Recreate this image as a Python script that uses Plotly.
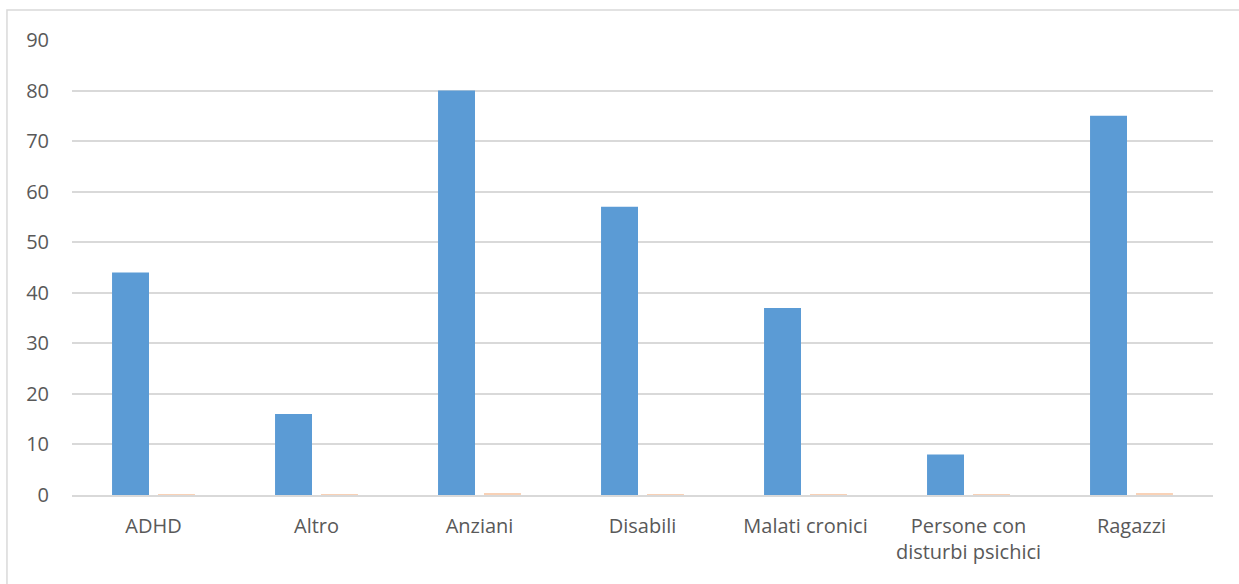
import plotly.graph_objects as go

categories = ["ADHD", "Altro", "Anziani", "Disabili", "Malati cronici",
              "Persone con<br>disturbi psichici", "Ragazzi"]
conteggi = [44, 16, 80, 57, 37, 8, 75]
quote = [0.14, 0.05, 0.25, 0.18, 0.12, 0.03, 0.24]
y_ticks = [0, 10, 20, 30, 40, 50, 60, 70, 80, 90]

FONT = "Open Sans"
GRID = "#D9D9D9"
TEXT = "#595959"

fig = go.Figure()
fig.add_trace(go.Bar(x=categories, y=conteggi, marker_color="#5B9BD5",
                     marker_line_width=0, name="Conteggio"))
fig.add_trace(go.Bar(x=categories, y=quote, marker_color="#ED7D31",
                     marker_line_width=0, opacity=0.35, name="Quota"))

fig.update_layout(
    width=1239, height=584,
    margin=dict(l=72, r=26, t=40, b=89),
    paper_bgcolor="white", plot_bgcolor="white",
    barmode="group", bargap=0.436, bargroupgap=0.196,
    showlegend=False,
    font=dict(family=FONT, size=20, color=TEXT),
    shapes=[dict(type="rect", xref="paper", yref="paper",
                 x0=-0.057, x1=1.05, y0=-0.3, y1=1.066,
                 line=dict(color=GRID, width=1.5), layer="below")],
)
fig.update_xaxes(showgrid=False, showline=True, linecolor=GRID, linewidth=2,
                 layer="above traces", ticks="", ticklabelstandoff=12,
                 tickfont=dict(size=20, color=TEXT))
fig.update_yaxes(range=[0, 90], tickvals=y_ticks, showgrid=True, gridcolor=GRID,
                 gridwidth=1.5, zeroline=False, showline=False, ticks="",
                 ticklabelstandoff=22, tickfont=dict(size=20, color=TEXT))

fig.write_html("out.html")
